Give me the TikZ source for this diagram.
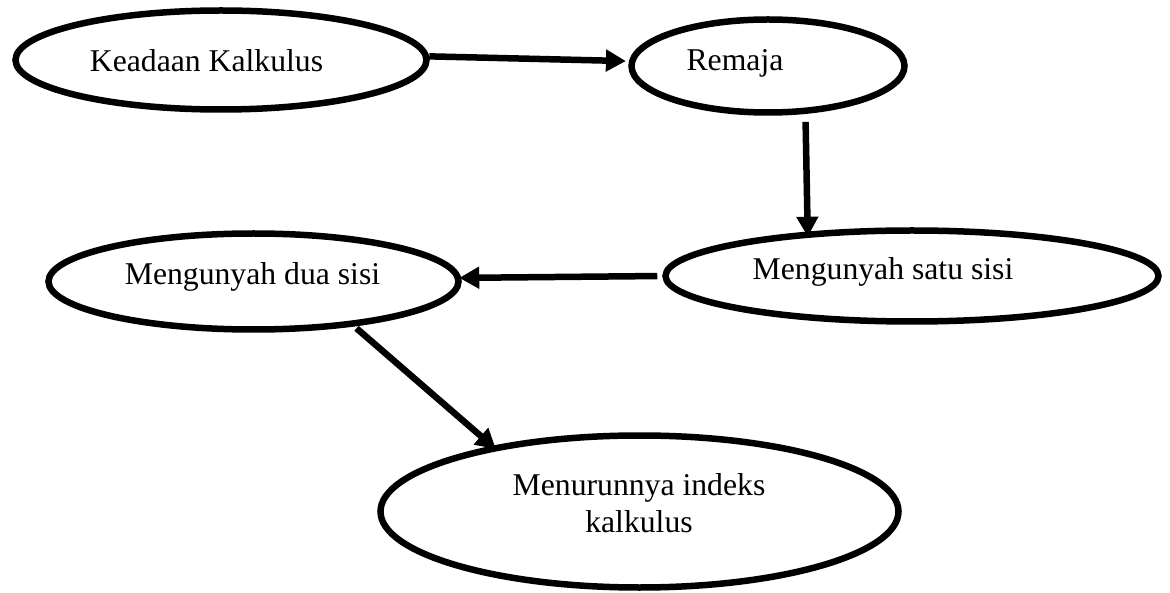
\documentclass[tikz,border=0pt]{standalone}
\usepackage{fontspec}
\setmainfont{Liberation Serif}
\usetikzlibrary{arrows.meta,shapes.geometric}
\begin{document}
\begin{tikzpicture}[x=1pt,y=-1pt,
  oval/.style={draw, line width=6.5pt, ellipse, inner sep=0pt},
  lbl/.style={inner sep=0pt, anchor=base, font=\fontsize{31.7}{37}\selectfont},
  conn/.style={line width=6.5pt, -{Triangle[length=20pt,width=21pt]}}]
\useasboundingbox[fill=white] (0,0) rectangle (1170,593);
% ovals
\node[oval, minimum width=411pt, minimum height=99pt] (e1) at (221,60) {};
\node[oval, minimum width=273pt, minimum height=93pt] (e2) at (768,66) {};
\node[oval, minimum width=493pt, minimum height=91pt] (e3) at (912,276) {};
\node[oval, minimum width=410pt, minimum height=96pt] (e4) at (253.5,281.5) {};
\node[oval, minimum width=518pt, minimum height=152pt] (e5) at (639.5,511.5) {};
% texts
\node[lbl] (t1) at (206.5,72) {Keadaan Kalkulus};
\node[lbl] (t2) at (735,71) {Remaja};
\node[lbl] (t3) at (883,280) {Mengunyah satu sisi};
\node[lbl] (t4) at (252.5,285) {Mengunyah dua sisi};
\node[lbl] (t5a) at (639,495) {Menurunnya indeks};
\node[lbl] (t5b) at (639,532) {kalkulus};
% connectors
\draw[conn, shorten >=3pt] (e1.1) -- (e2.178);
\draw[conn, shorten <=8pt, shorten >=-5pt] (e2.-52) -- (e3.157);
\draw[conn, shorten <=5pt, shorten >=-2pt] (e3.west) -- (e4.1);
\draw[conn, shorten <=3pt, shorten >=-5pt] (e4.-24) -- (e5.156);
\end{tikzpicture}
\end{document}
